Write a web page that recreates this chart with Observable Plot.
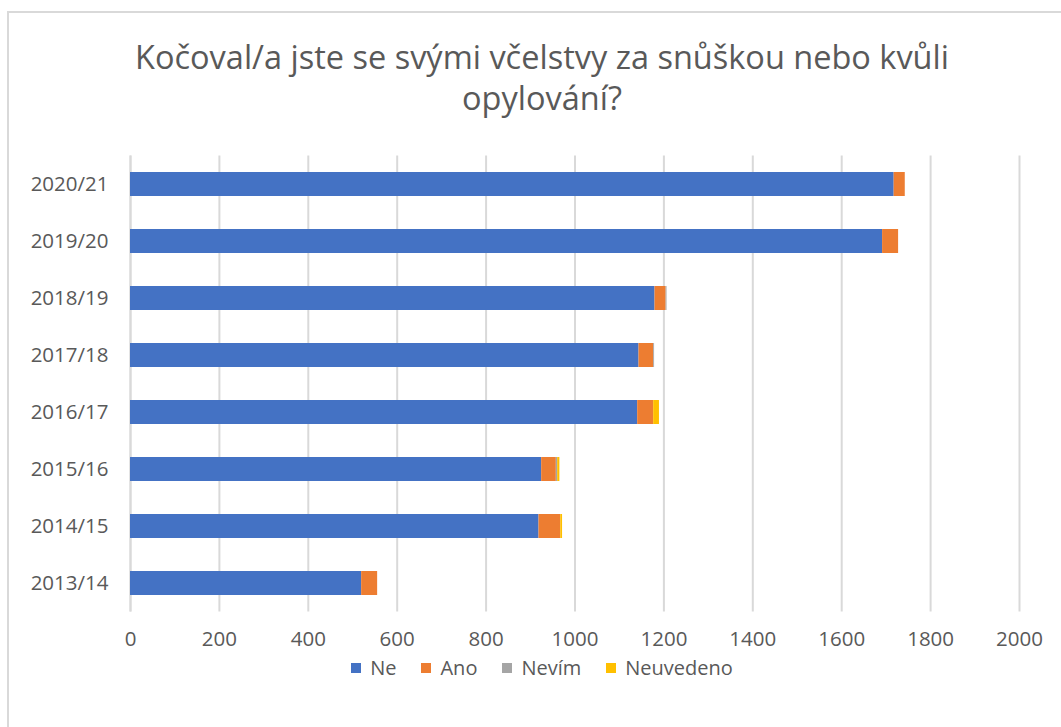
<!DOCTYPE html>
<html>
<head>
<meta charset="utf-8">
<script src="https://cdn.jsdelivr.net/npm/d3@7"></script>
<script src="https://cdn.jsdelivr.net/npm/@observablehq/plot@0.6"></script>
<style>
  html, body { margin: 0; padding: 0; background: #fff; }
  #wrap { position: relative; width: 1061px; height: 727px; overflow: hidden; font-family: "Open Sans", "Noto Sans", sans-serif; color: #595959; }
  #frame { position: absolute; left: 7px; top: 11px; width: 1080px; height: 740px; border: 2px solid #d9d9d9; box-sizing: border-box; }
  #title { position: absolute; left: 0; top: 36px; width: 1084px; text-align: center; font-size: 32.5px; line-height: 41px; color: #595959; }
  #chart { position: absolute; left: 0; top: 0; }
  #legend { position: absolute; left: 0; top: 654px; width: 1084px; display: flex; justify-content: center; gap: 25px; font-size: 20px; line-height: 28px; }
  #legend span.item { display: inline-flex; align-items: center; }
  #legend span.sw { display: inline-block; width: 10px; height: 10px; margin-right: 9px; }
</style>
</head>
<body>
<div id="wrap">
  <div id="frame"></div>
  <div id="chart"></div>
  <div id="title">Kočoval/a jste se svými včelstvy za snůškou nebo kvůli<br>opylování?</div>
  <div id="legend"></div>
</div>
<script>
const years = ["2013/14","2014/15","2015/16","2016/17","2017/18","2018/19","2019/20","2020/21"];
const ne        = [520, 919, 925, 1141, 1144, 1180, 1692, 1718];
const ano       = [36, 49, 33, 36, 33, 25, 36, 25];
const nevim     = [0, 0, 3, 0, 2, 2, 0, 0];
const neuvedeno = [0, 4, 5, 13, 0, 0, 0, 0];
const seriesNames = ["Ne", "Ano", "Nevím", "Neuvedeno"];
const seriesColors = ["#4472C4", "#ED7D31", "#A5A5A5", "#FFC000"];
const xTicks = [0, 200, 400, 600, 800, 1000, 1200, 1400, 1600, 1800, 2000];

const seriesValues = [ne, ano, nevim, neuvedeno];
const data = [];
seriesNames.forEach((s, si) => {
  years.forEach((y, yi) => data.push({year: y, series: s, value: seriesValues[si][yi]}));
});

const chart = Plot.plot({
  width: 1061,
  height: 660,
  marginTop: 155.5,
  marginBottom: 48.5,
  marginLeft: 130,
  marginRight: 42,
  style: {fontFamily: '"Open Sans", "Noto Sans", sans-serif', fontSize: "20.5px", color: "#595959", background: "transparent"},
  x: {domain: [0, 2000], ticks: xTicks, label: null},
  y: {domain: years.slice().reverse(), paddingInner: 0.58, paddingOuter: 0.29, label: null},
  color: {domain: seriesNames, range: seriesColors},
  marks: [
    Plot.gridX(xTicks, {stroke: "#d9d9d9", strokeOpacity: 1, strokeWidth: 2}),
    Plot.ruleX([0], {stroke: "#d9d9d9", strokeWidth: 2}),
    Plot.barX(data, Plot.stackX({y: "year", x: "value", fill: "series", order: seriesNames})),
    Plot.axisX({ticks: xTicks, tickSize: 0, tickPadding: 19, tickFormat: d => String(d), label: null, fill: "#595959"}),
    Plot.axisY({tickSize: 0, tickPadding: 22, label: null, fill: "#595959"})
  ]
});
document.getElementById("chart").appendChild(chart);

const legend = document.getElementById("legend");
seriesNames.forEach((s, i) => {
  const item = document.createElement("span");
  item.className = "item";
  const sw = document.createElement("span");
  sw.className = "sw";
  sw.style.background = seriesColors[i];
  item.appendChild(sw);
  item.appendChild(document.createTextNode(s));
  legend.appendChild(item);
});
</script>
</body>
</html>
